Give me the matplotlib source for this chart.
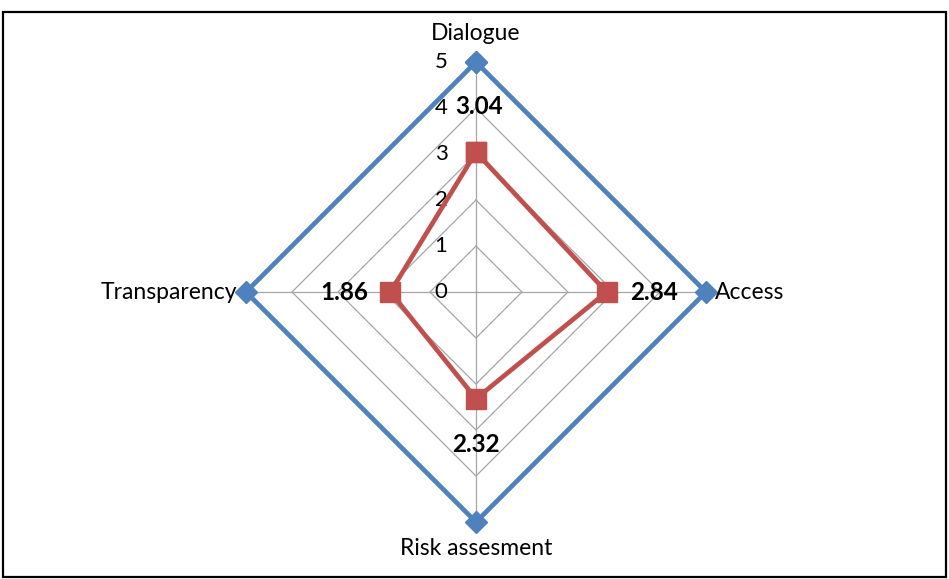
import matplotlib
matplotlib.use("Agg")
import matplotlib.pyplot as plt
import numpy as np
from matplotlib.patches import Rectangle

plt.rcParams["font.family"] = ["Lato", "DejaVu Sans"]

categories = ["Dialogue", "Access", "Risk assesment", "Transparency"]
max_scores = [5, 5, 5, 5]
avg_scores = [3.04, 2.84, 2.32, 1.86]
ring_levels = [1, 2, 3, 4, 5]
tick_labels = ["0", "1", "2", "3", "4", "5"]

blue = "#4F81BD"
red = "#C0504D"
grid_gray = "#A6A6A6"

theta = np.linspace(0, 2 * np.pi, len(categories), endpoint=False)
theta_closed = np.append(theta, theta[0])

fig = plt.figure(figsize=(9.49, 5.79), dpi=100)
ax = fig.add_axes([0.2592, 0.0984, 0.4847, 0.7945], projection="polar")
ax.set_theta_zero_location("N")
ax.set_theta_direction(-1)
ax.set_ylim(0, 5)
ax.grid(False)
ax.spines["polar"].set_visible(False)
ax.set_xticks([])
ax.set_yticks([])
ax.patch.set_alpha(0)

# diamond rings and spokes
for lvl in ring_levels:
    ax.plot(theta_closed, [lvl] * len(theta_closed), color=grid_gray, lw=0.9, zorder=1)
for t in theta:
    ax.plot([t, t], [0, 5], color=grid_gray, lw=0.9, zorder=1)

# radial scale labels along the top spoke
for i, lab in enumerate(tick_labels):
    ax.annotate(lab, xy=(0, i), xytext=(-35, 0), textcoords="offset pixels",
                ha="center", va="center", fontsize=16, color="#000000")

ax.plot(theta_closed, max_scores + max_scores[:1], color=blue, lw=3.4,
        marker="D", markersize=11, markerfacecolor=blue, markeredgecolor=blue,
        zorder=3, clip_on=False)
ax.plot(theta_closed, avg_scores + avg_scores[:1], color=red, lw=3.4,
        marker="s", markersize=14, markerfacecolor=red, markeredgecolor=red,
        zorder=4, clip_on=False)

# value labels pushed outward from each red marker
offsets = [(3, 46), (47, 0), (0, -46), (-46, 0)]
for t, v, (dx, dy) in zip(theta, avg_scores, offsets):
    ax.annotate(f"{v:.2f}", xy=(t, v), xytext=(dx, dy), textcoords="offset pixels",
                ha="center", va="center", fontsize=17.5, fontweight="bold", zorder=5)

# category names
ax.text(theta[0], 5.63, categories[0], ha="center", va="center", fontsize=16.5)
ax.text(theta[1], 5.2, categories[1], ha="left", va="center", fontsize=16.5)
ax.text(theta[2], 5.57, categories[2], ha="center", va="center", fontsize=16.5)
ax.text(theta[3], 5.2, categories[3], ha="right", va="center", fontsize=16.5)

fig.patches.append(Rectangle((0.0032, 0.0035), 0.9936, 0.9758, transform=fig.transFigure,
                             fill=False, edgecolor="black", lw=1.6))

fig.savefig("out.png", dpi=100)
